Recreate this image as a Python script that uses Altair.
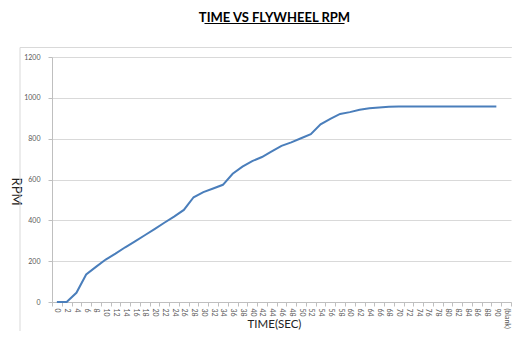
import altair as alt
import pandas as pd

times = [str(t) for t in range(0, 92, 2)] + ["(blank)"]
rpm = [0, 0, 45, 135, 172, 208, 237, 268, 297, 327, 357, 388, 418, 451,
       513, 538, 556, 574, 628, 663, 690, 710, 738, 765, 782, 802, 822,
       870, 897, 921, 930, 942, 949, 953, 956,
       958, 958, 958, 958, 958, 958, 958, 958, 958, 958, 958, None]

title_text = "TIME VS FLYWHEEL RPM"
x_title = "TIME(SEC)"
y_title = "RPM"
y_ticks = [0, 200, 400, 600, 800, 1000, 1200]

df = pd.DataFrame({"time": times, "rpm": rpm})
FONT = "Lato"
W, H = 459, 245

line = alt.Chart(df).mark_line(color="#4a7ebb", strokeWidth=2).encode(
    x=alt.X("time:N", sort=times,
            scale=alt.Scale(domain=times, paddingInner=0, paddingOuter=0),
            axis=alt.Axis(title=x_title, labelAngle=90, labelAlign="left",
                          labelBaseline="middle", labelFontSize=7,
                          labelColor="#595959", labelPadding=2,
                          labelOverlap=False, tickBand="extent", tickSize=4,
                          tickColor="#bfbfbf", domainColor="#bfbfbf",
                          grid=False, titleFontSize=11.5,
                          titleFontWeight="normal", titleColor="#222222",
                          titleX=222, titleY=22, titleBaseline="middle",
                          titleAlign="center")),
    y=alt.Y("rpm:Q", scale=alt.Scale(domain=[0, 1200], nice=False),
            axis=alt.Axis(title=y_title, values=y_ticks, format="d",
                          labelFontSize=7,
                          labelColor="#595959", labelPadding=8, tickSize=4,
                          tickColor="#bfbfbf", domainColor="#bfbfbf",
                          gridColor="#d9d9d9", titleFontSize=13,
                          titleFontWeight="normal", titleColor="#222222",
                          titleAngle=90, titleX=-37, titleY=134,
                          titleAlign="center", titleBaseline="middle")),
)

one = pd.DataFrame({"k": [0]})
border = alt.Chart(one).mark_rect(fillOpacity=0, stroke="#d9d9d9",
                                  strokeWidth=1).encode(
    x=alt.value(-32), x2=alt.value(480), y=alt.value(-9.5), y2=alt.value(300))

title = alt.Chart(one).mark_text(text=title_text, font=FONT, fontSize=13,
                                 fontWeight="bold", color="#000000",
                                 align="center", baseline="alphabetic").encode(
    x=alt.value(222.5), y=alt.value(-35.5))

underline = alt.Chart(one).mark_rule(color="#000000", strokeWidth=1).encode(
    x=alt.value(152.5), x2=alt.value(292.5), y=alt.value(-33.5))

chart = alt.layer(border, line, title, underline).properties(
    width=W, height=H,
    autosize=alt.AutoSizeParams(type="none"),
    padding={"left": 44, "top": 49, "right": 1, "bottom": 29},
).configure(font=FONT).configure_view(strokeWidth=0)

chart.save("out.html", embed_options={"renderer": "svg", "actions": False})
